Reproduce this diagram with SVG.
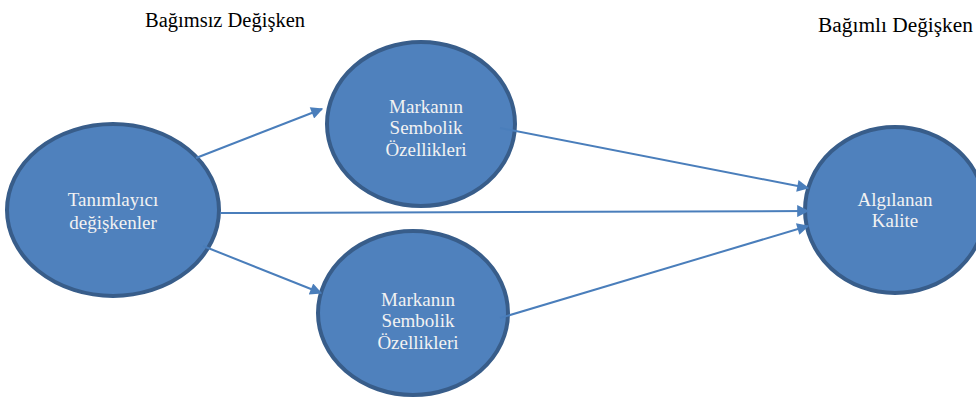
<svg xmlns="http://www.w3.org/2000/svg" width="976" height="398" viewBox="0 0 976 398">
<style>
.node ellipse{fill:#4f81bd;stroke:#385d8a;stroke-width:4}
.node text{font-family:"Liberation Serif","DejaVu Serif",serif;font-size:19px;fill:#f2f2f2;text-anchor:middle}
.hdr{font-family:"Liberation Serif",serif;font-size:20.5px;fill:#000}
.conn line{stroke:#4a7ebb;stroke-width:2;fill:none}
</style>
<defs>
<marker id="ah" viewBox="0 0 10 10" refX="9" refY="5" markerWidth="7" markerHeight="6" markerUnits="strokeWidth" orient="auto">
<path d="M0,0 L10,5 L0,10 z" fill="#4a7ebb"/>
</marker>
</defs>
<rect width="976" height="398" fill="#fff"/>
<text class="hdr" x="145" y="27">Bağımsız Değişken</text>
<text class="hdr" x="818" y="32" textLength="155" lengthAdjust="spacingAndGlyphs">Bağımlı Değişken</text>
<g id="tanimlayici" class="node">
<ellipse cx="113" cy="210" rx="106" ry="86"/>
<text x="113" y="206">Tanımlayıcı</text>
<text x="113" y="229">değişkenler</text>
</g>
<g id="markanin1" class="node">
<ellipse cx="421" cy="124" rx="94" ry="82"/>
<text x="426" y="113">Markanın</text>
<text x="426" y="134">Sembolik</text>
<text x="426" y="156">Özellikleri</text>
</g>
<g id="markanin2" class="node">
<ellipse cx="413" cy="313" rx="95" ry="82"/>
<text x="418" y="306">Markanın</text>
<text x="418" y="327">Sembolik</text>
<text x="418" y="349">Özellikleri</text>
</g>
<g id="algilanan" class="node">
<ellipse cx="895" cy="210" rx="90" ry="83"/>
<text x="895" y="206">Algılanan</text>
<text x="895" y="227">Kalite</text>
</g>
<g class="conn">
<line x1="196" y1="158" x2="322" y2="109" marker-end="url(#ah)"/>
<line x1="203" y1="246" x2="321" y2="293" marker-end="url(#ah)"/>
<line x1="500" y1="128" x2="808" y2="188" marker-end="url(#ah)"/>
<line x1="220" y1="213" x2="808" y2="211" marker-end="url(#ah)"/>
<line x1="500" y1="318" x2="808" y2="226" marker-end="url(#ah)"/>
</g>
</svg>
